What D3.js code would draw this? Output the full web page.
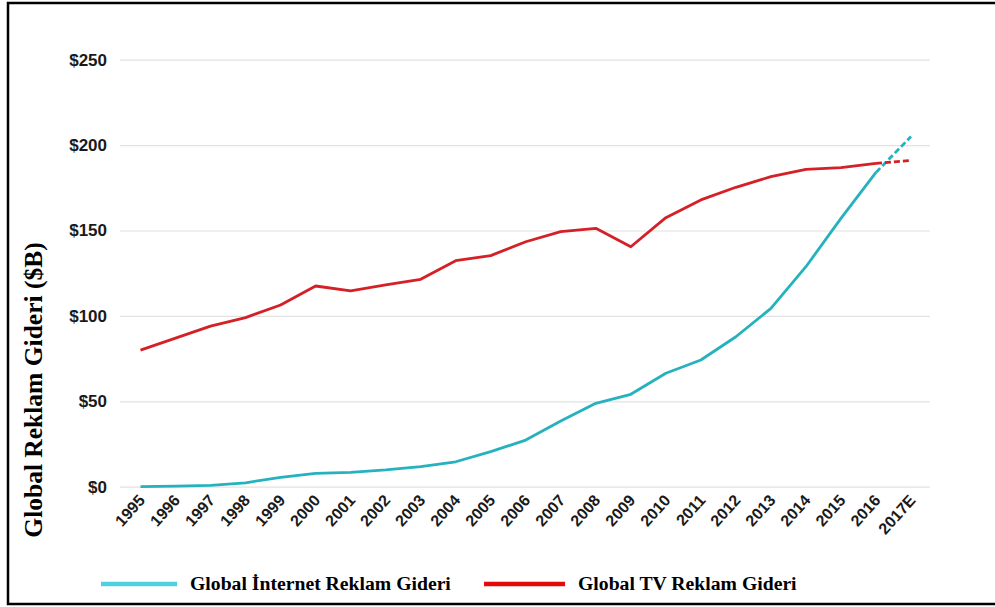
<!DOCTYPE html>
<html><head><meta charset="utf-8">
<script src="https://cdn.jsdelivr.net/npm/d3@7"></script>
<style>body{margin:0;background:#fff}svg{display:block}</style>
</head><body>
<svg id="c" width="995" height="607"></svg>
<script>
const years = ["1995","1996","1997","1998","1999","2000","2001","2002","2003","2004","2005","2006","2007","2008","2009","2010","2011","2012","2013","2014","2015","2016","2017E"];
const internet = [0,0.3,0.8,2.3,5.5,7.8,8.4,9.8,11.7,14.6,20.5,27.3,38.5,48.8,54.1,66.4,74.2,87.8,104.4,128.8,157.1,184,205];
const tv = [80,87,94,99,106.4,117.5,114.6,118.2,121.4,132.3,135.3,143.4,149.3,151.3,140.5,157.5,167.9,175.3,181.5,185.8,186.8,189.3,191];
const yTicks = [0,50,100,150,200,250];
const seriesNames = ["Global İnternet Reklam Gideri","Global TV Reklam Gideri"];
const lineColors = ["#25b2be","#d42026"];
const legendColors = ["#4fd0df","#e40a0a"];

const svg = d3.select("#c");
const x = d3.scalePoint().domain(years).range([140.5, 911]);
const y = d3.scaleLinear().domain([0,250]).range([486.7, 59.7]);

// frame
svg.append("rect").attr("x",8).attr("y",3).attr("width",1000).attr("height",601)
  .attr("fill","none").attr("stroke","#000").attr("stroke-width",2.5);

// grid
const gy = svg.append("g").attr("transform","translate(120,0)")
  .call(d3.axisLeft(y).tickValues(yTicks).tickSize(-810).tickFormat(d=>"$"+d));
gy.select(".domain").remove();
gy.selectAll(".tick line").attr("stroke","#e2e2e2").attr("stroke-width",1.2);
gy.selectAll(".tick text").attr("x",-13).attr("fill","#1a1a1a")
  .style("font-family","'Liberation Sans',Arial,sans-serif").style("font-weight","bold").style("font-size","17px");

// x axis labels
const gx = svg.append("g").attr("transform","translate(0,487)")
  .call(d3.axisBottom(x).tickSize(0));
gx.select(".domain").remove();
gx.selectAll(".tick text")
  .attr("fill","#1a1a1a")
  .style("font-family","'Liberation Sans',Arial,sans-serif").style("font-weight","bold").style("font-size","16px")
  .attr("text-anchor","end").attr("dy",0).attr("y",0)
  .attr("transform","translate(5,14) rotate(-48)");

// lines
const solidIdx = years.length - 2;
const line = d3.line().x(d=>x(d[0])).y(d=>y(d[1]));
[internet, tv].forEach((s,i)=>{
  const pts = years.map((yr,k)=>[yr,s[k]]);
  svg.append("path").attr("d", line(pts.slice(0, solidIdx+1)))
    .attr("fill","none").attr("stroke",lineColors[i]).attr("stroke-width",2.8).attr("stroke-linejoin","round");
  svg.append("path").attr("d", line(pts.slice(solidIdx)))
    .attr("fill","none").attr("stroke",lineColors[i]).attr("stroke-width",2.8).attr("stroke-dasharray","6,3");
});

// y title
svg.append("text").attr("transform","translate(42,390) rotate(-90)")
  .attr("text-anchor","middle")
  .style("font-family","'Liberation Serif','Times New Roman',serif").style("font-weight","bold").style("font-size","25.5px")
  .attr("fill","#000").text("Global Reklam Gideri ($B)");

// legend
const leg = [{x1:101,x2:177,tx:190},{x1:484,x2:565,tx:578}];
leg.forEach((l,i)=>{
  svg.append("line").attr("x1",l.x1).attr("x2",l.x2).attr("y1",584).attr("y2",584)
    .attr("stroke",legendColors[i]).attr("stroke-width",4.5);
  svg.append("text").attr("x",l.tx).attr("y",590)
    .style("font-family","'Liberation Serif','Times New Roman',serif").style("font-weight","bold").style("font-size","19.7px")
    .attr("fill","#000").text(seriesNames[i]);
});
</script>
</body></html>
